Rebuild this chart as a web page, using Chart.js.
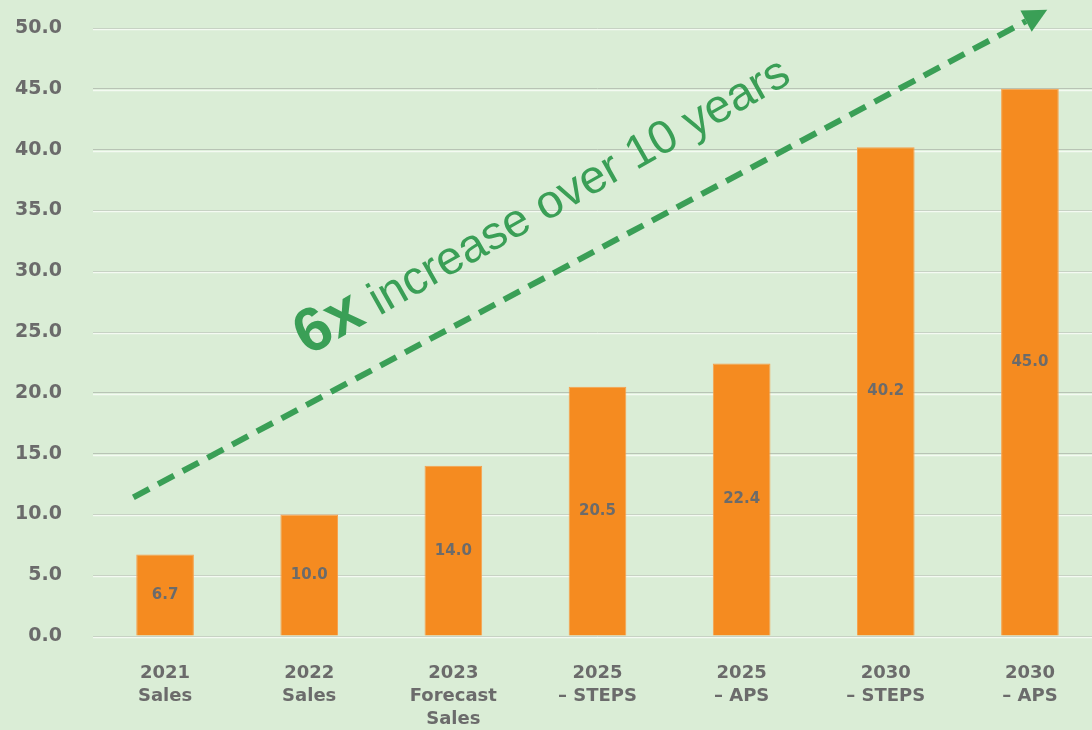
<!DOCTYPE html>
<html>
<head>
<meta charset="utf-8">
<script src="https://cdn.jsdelivr.net/npm/chart.js@4.4.1/dist/chart.umd.min.js"></script>
<style>
  html, body { margin: 0; padding: 0; background: #daedd6; overflow: hidden; }
  #wrap { width: 1102px; height: 730px; position: relative; }
</style>
</head>
<body>
<div id="wrap"><canvas id="salesChart"></canvas></div>
<script>
// Chart data
const categories = [
  ['2021', 'Sales'],
  ['2022', 'Sales'],
  ['2023', 'Forecast', 'Sales'],
  ['2025', '\u2013 STEPS'],
  ['2025', '\u2013 APS'],
  ['2030', '\u2013 STEPS'],
  ['2030', '\u2013 APS']
];
const salesValues = [6.7, 10.0, 14.0, 20.5, 22.4, 40.2, 45.0];
const yTicks = [0, 5, 10, 15, 20, 25, 30, 35, 40, 45, 50];

// Trend arrow, in (category index, value) coordinates
const arrowStart = [-0.22, 11.4];
const arrowEnd = [6.12, 51.5];
const arrowLabelAt = [0.99, 23.0];
const arrowLabelBold = '6x';
const arrowLabelRest = ' increase over 10 years';

const GREEN = '#3a9f56';
const GREY = '#6b6b6b';
const FONT = "'DejaVu Sans', sans-serif";

// white highlight under each gridline (embossed look)
const gridHighlight = {
  id: 'gridHighlight',
  beforeDatasetsDraw(chart) {
    const { ctx, chartArea, scales } = chart;
    ctx.save();
    ctx.strokeStyle = '#f4faf2';
    ctx.lineWidth = 1.5;
    yTicks.forEach(v => {
      const y = Math.round(scales.y.getPixelForValue(v)) + 1.5;
      ctx.beginPath();
      ctx.moveTo(chartArea.left, y);
      ctx.lineTo(chartArea.right, y);
      ctx.stroke();
    });
    ctx.restore();
  }
};

const barLabels = {
  id: 'barLabels',
  afterDatasetsDraw(chart) {
    const { ctx } = chart;
    const meta = chart.getDatasetMeta(0);
    ctx.save();
    ctx.fillStyle = GREY;
    ctx.font = `bold 15px ${FONT}`;
    ctx.textAlign = 'center';
    ctx.textBaseline = 'middle';
    meta.data.forEach((bar, i) => {
      const mid = (bar.y + bar.base) / 2;
      ctx.fillText(salesValues[i].toFixed(1), bar.x, mid);
    });
    ctx.restore();
  }
};

const trendArrow = {
  id: 'trendArrow',
  afterDraw(chart) {
    const { ctx, scales } = chart;
    const x1 = scales.x.getPixelForValue(arrowStart[0]);
    const y1 = scales.y.getPixelForValue(arrowStart[1]);
    const x2 = scales.x.getPixelForValue(arrowEnd[0]);
    const y2 = scales.y.getPixelForValue(arrowEnd[1]);
    const ang = Math.atan2(y2 - y1, x2 - x1);
    const headLen = 24, headW = 12;
    const bx = x2 - headLen * Math.cos(ang);
    const by = y2 - headLen * Math.sin(ang);

    ctx.save();
    ctx.strokeStyle = GREEN;
    ctx.fillStyle = GREEN;
    ctx.lineWidth = 6;
    ctx.setLineDash([18, 10]);
    ctx.beginPath();
    ctx.moveTo(x1, y1);
    ctx.lineTo(bx, by);
    ctx.stroke();
    ctx.setLineDash([]);
    ctx.beginPath();
    ctx.moveTo(x2, y2);
    ctx.lineTo(bx + headW * Math.sin(ang), by - headW * Math.cos(ang));
    ctx.lineTo(bx - headW * Math.sin(ang), by + headW * Math.cos(ang));
    ctx.closePath();
    ctx.fill();

    // label along the arrow, tilted a touch steeper than the line
    const tx = scales.x.getPixelForValue(arrowLabelAt[0]);
    const ty = scales.y.getPixelForValue(arrowLabelAt[1]);
    ctx.translate(tx, ty);
    ctx.rotate(ang - 0.025);
    ctx.textBaseline = 'alphabetic';
    ctx.textAlign = 'left';
    ctx.font = "bold 62px 'Liberation Sans', Arial, sans-serif";
    ctx.fillText(arrowLabelBold, 0, 0);
    const w = ctx.measureText(arrowLabelBold).width;
    ctx.font = "47px 'Liberation Sans', Arial, sans-serif";
    ctx.fillText(arrowLabelRest, w, 0);
    ctx.restore();
  }
};

const ctx = document.getElementById('salesChart').getContext('2d');
new Chart(ctx, {
  type: 'bar',
  data: {
    labels: categories,
    datasets: [{
      data: salesValues,
      backgroundColor: '#f58b20',
      borderColor: '#f7a04c',
      borderWidth: 1,
      borderSkipped: 'bottom',
      barPercentage: 0.4,
      categoryPercentage: 1.0
    }]
  },
  options: {
    responsive: true,
    maintainAspectRatio: false,
    animation: false,
    layout: { autoPadding: false, padding: { top: 28, right: 0, left: 0, bottom: 0 } },
    plugins: {
      legend: { display: false },
      tooltip: { enabled: false }
    },
    scales: {
      x: {
        grid: { display: false, drawTicks: false },
        border: { display: false },
        ticks: {
          color: GREY,
          font: { family: FONT, size: 18, weight: 'bold', lineHeight: 1.28 },
          padding: 26,
          maxRotation: 0,
          autoSkip: false
        },
        afterFit(scale) { scale.height = 94; }
      },
      y: {
        min: 0,
        max: 50,
        afterBuildTicks(scale) { scale.ticks = yTicks.map(v => ({ value: v })); },
        grid: { color: '#b8c4b5', lineWidth: 1, drawTicks: false },
        border: { display: false },
        ticks: {
          color: GREY,
          font: { family: FONT, size: 19, weight: 'bold' },
          padding: 31,
          callback: v => v.toFixed(1)
        },
        afterFit(scale) {
          scale.width = 93;
          scale.paddingTop = 0;
          scale.paddingBottom = 0;
        }
      }
    }
  },
  plugins: [gridHighlight, barLabels, trendArrow]
});
</script>
</body>
</html>
